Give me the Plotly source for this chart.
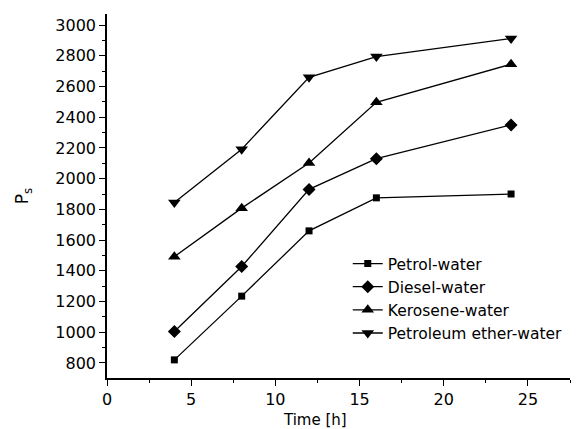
import plotly.graph_objects as go

time_h = [4, 8, 12, 16, 24]
petrol_water = [820, 1235, 1660, 1875, 1900]
diesel_water = [1005, 1428, 1930, 2130, 2350]
kerosene_water = [1492, 1808, 2102, 2497, 2745]
petroleum_ether_water = [1845, 2192, 2660, 2795, 2912]

series = [
    ("Petrol-water", petrol_water, "square", 7),
    ("Diesel-water", diesel_water, "diamond", 10),
    ("Kerosene-water", kerosene_water, "triangle-up", 11),
    ("Petroleum ether-water", petroleum_ether_water, "triangle-down", 11),
]

fig = go.Figure()
for name, vals, sym, sz in series:
    fig.add_trace(go.Scatter(
        x=time_h, y=vals, name=name, mode="lines+markers",
        line=dict(color="black", width=1.3),
        marker=dict(symbol=sym, size=sz, color="black"),
    ))

font = dict(family="DejaVu Sans, sans-serif", size=16, color="black")
fig.update_layout(
    width=576, height=429,
    margin=dict(l=107, r=6, t=14, b=51),
    paper_bgcolor="white", plot_bgcolor="white",
    font=font,
    showlegend=True,
    legend=dict(x=0.52, y=0.36, xanchor="left", yanchor="top",
                bgcolor="rgba(0,0,0,0)", font=dict(size=15.5),
                tracegroupgap=0, itemwidth=30),
    xaxis=dict(range=[0, 27.5], tickvals=[0, 5, 10, 15, 20, 25],
               showline=True, linecolor="black", linewidth=1.5,
               ticks="outside", ticklen=6, tickwidth=1.3, tickcolor="black",
               minor=dict(dtick=2.5, tick0=0, ticks="outside", ticklen=3, tickcolor="black", tickwidth=1.3),
               showgrid=False, zeroline=False),
    yaxis=dict(range=[702, 3072], tickvals=list(range(800, 3001, 200)),
               showline=True, linecolor="black", linewidth=1.5,
               ticks="outside", ticklen=6, tickwidth=1.3, tickcolor="black",
               minor=dict(dtick=100, tick0=0, ticks="outside", ticklen=3, tickcolor="black", tickwidth=1.3),
               showgrid=False, zeroline=False,
               title=dict(text="P<sub>s</sub>", standoff=22, font=dict(size=17))),
    annotations=[dict(text="Time [h]", xref="paper", yref="paper",
                      x=0.449, y=-0.115, xanchor="center", yanchor="middle",
                      showarrow=False, font=dict(size=15))],
)
fig.write_html("out.html", config={"displayModeBar": False},
               post_script="document.body.style.margin='0';")
